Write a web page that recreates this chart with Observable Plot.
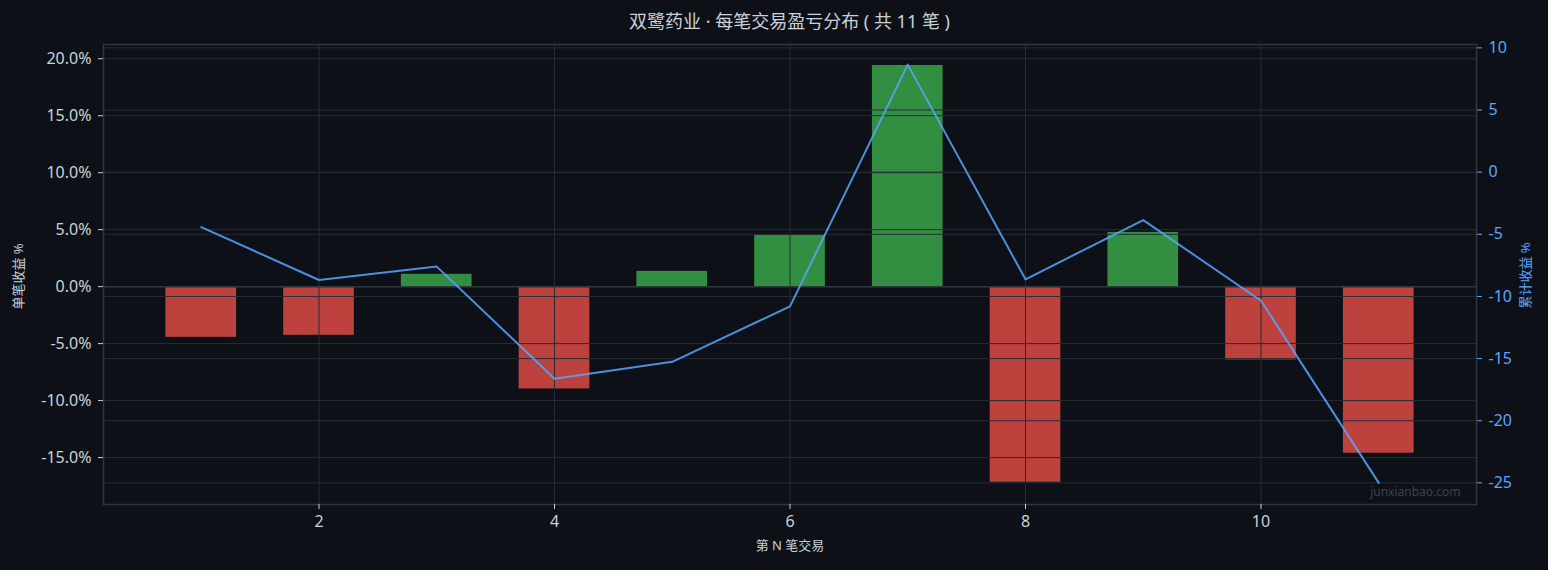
<!DOCTYPE html>
<html>
<head>
<meta charset="utf-8">
<script src="https://cdn.jsdelivr.net/npm/d3@7"></script>
<script src="https://cdn.jsdelivr.net/npm/@observablehq/plot@0.6"></script>
<style>
  html, body { margin: 0; padding: 0; background: #0d1117; }
  #wrap { position: relative; width: 1548px; height: 570px; background: #0d1117; overflow: hidden; }
  #title { position: absolute; left: 103px; width: 1373px; top: 0; height: 36px; line-height: 43px;
    text-align: center; color: #c9d1d9; font-size: 18px; white-space: pre;
    font-family: 'Noto Sans', 'Noto Sans CJK SC', sans-serif; }
  #chart { position: absolute; left: 0; top: 36px; }
</style>
</head>
<body>
<div id="wrap">
  <div id="title"></div>
  <div id="chart"></div>
</div>
<script>
// ---- data ----
const trades = [1, 2, 3, 4, 5, 6, 7, 8, 9, 10, 11];
const returns = [-4.45, -4.27, 1.08, -8.98, 1.34, 4.50, 19.41, -17.17, 4.76, -6.44, -14.62];
const cumulative = [-4.42, -8.68, -7.60, -16.62, -15.26, -10.80, 8.65, -8.62, -3.86, -10.35, -25.00];
const xTicks = [2, 4, 6, 8, 10];
const leftTicks = [-15, -10, -5, 0, 5, 10, 15, 20];
const rightTicks = [-25, -20, -15, -10, -5, 0, 5, 10];
const titleText = "双鹭药业 · 每笔交易盈亏分布 ( 共 11 笔 )";
const xLabel = "第 N 笔交易";
const yLabelLeft = "单笔收益 %";
const yLabelRight = "累计收益 %";
const watermark = "junxianbao.com";

const leftDomain = [-19.12, 21.25];
const rightDomain = [-26.74, 10.27];
const conv = d3.scaleLinear().domain(rightDomain).range(leftDomain);

const bars = trades.map((n, i) => ({n, r: returns[i]}));
const cum = trades.map((n, i) => ({n, c: cumulative[i]}));

const RED = "#f85149", GREEN = "#3fb950", BLUE = "#58a6ff";
const GRID = "#272c34", FRAME = "#30363d", TEXT = "#c9d1d9";

const plot = Plot.plot({
  width: 1548,
  height: 534,
  marginTop: 8,
  marginBottom: 66,
  marginLeft: 103,
  marginRight: 72,
  style: {background: "#0d1117", color: TEXT, fontFamily: "'Noto Sans', 'Noto Sans CJK SC', sans-serif", fontSize: "16px"},
  x: {domain: [0.17, 11.83]},
  y: {domain: leftDomain},
  marks: [
    Plot.rectY(bars.filter(d => d.r < 0), {x1: d => d.n - 0.3, x2: d => d.n + 0.3, y1: 0, y2: "r", fill: RED, fillOpacity: 0.75}),
    Plot.rectY(bars.filter(d => d.r >= 0), {x1: d => d.n - 0.3, x2: d => d.n + 0.3, y1: 0, y2: "r", fill: GREEN, fillOpacity: 0.75}),
    Plot.gridX(xTicks, {stroke: GRID, strokeOpacity: 1}),
    Plot.gridY(leftTicks, {stroke: GRID, strokeOpacity: 1}),
    Plot.gridY(rightTicks.map(d => conv(d)), {stroke: GRID, strokeOpacity: 1}),
    Plot.ruleY([0], {stroke: FRAME, strokeWidth: 1.5}),
    Plot.line(cum, {x: "n", y: d => conv(d.c), stroke: BLUE, strokeOpacity: 0.85, strokeWidth: 2}),
    Plot.frame({stroke: FRAME, strokeWidth: 1.5}),
    Plot.axisX(xTicks, {anchor: "bottom", tickSize: 5, tickPadding: 6, label: null, tickFormat: d => String(d), fill: TEXT, stroke: TEXT}),
    Plot.axisY(leftTicks, {anchor: "left", tickSize: 5, tickPadding: 7, label: null, tickFormat: d => d.toFixed(1) + "%", fill: TEXT, stroke: TEXT}),
    Plot.axisY(rightTicks.map(d => conv(d)), {anchor: "right", tickSize: 5, tickPadding: 7, label: null,
      tickFormat: d => String(Math.round(conv.invert(d)) || 0), fill: BLUE, stroke: BLUE}),
    Plot.text([xLabel], {frameAnchor: "bottom", dy: 45, fontSize: 13, fill: TEXT}),
    Plot.text([yLabelLeft], {frameAnchor: "left", dx: -85, dy: 2, rotate: -90, textAnchor: "middle", lineAnchor: "middle", fontSize: 13, fill: TEXT}),
    Plot.text([yLabelRight], {frameAnchor: "right", dx: 49, dy: 1, rotate: -90, textAnchor: "middle", lineAnchor: "middle", fontSize: 13, fill: BLUE}),
    Plot.text([watermark], {frameAnchor: "bottom-right", dx: -16, dy: -12, textAnchor: "end", lineAnchor: "middle", fontSize: 12, fill: "#3b4149"})
  ]
});
document.getElementById("chart").appendChild(plot);
document.getElementById("title").textContent = titleText;
</script>
</body>
</html>
